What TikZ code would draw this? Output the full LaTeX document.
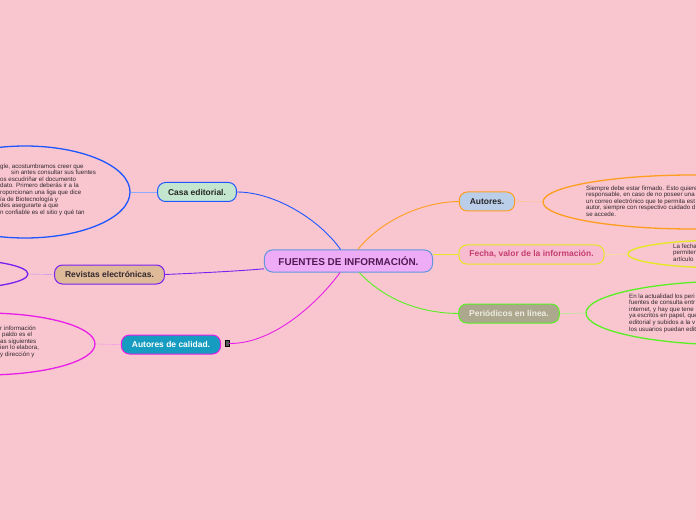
\documentclass[tikz,border=0pt]{standalone}
\usepackage{fontspec}
\setmainfont{Liberation Sans}
\usetikzlibrary{shapes.geometric}
\definecolor{bgpink}{RGB}{249,198,208}
\definecolor{notegray}{RGB}{50,40,46}
\definecolor{mainfill}{RGB}{238,172,246}
\definecolor{mainline}{RGB}{96,150,220}
\definecolor{maintext}{RGB}{82,24,84}
\definecolor{casablue}{RGB}{30,86,255}
\definecolor{casafill}{RGB}{196,230,206}
\definecolor{revviolet}{RGB}{122,32,240}
\definecolor{revfill}{RGB}{222,186,152}
\definecolor{calmag}{RGB}{232,30,232}
\definecolor{calfill}{RGB}{22,156,192}
\definecolor{autorange}{RGB}{255,158,30}
\definecolor{autfill}{RGB}{186,206,234}
\definecolor{fechayel}{RGB}{228,232,30}
\definecolor{fechafill}{RGB}{248,188,208}
\definecolor{fechatext}{RGB}{196,62,112}
\definecolor{pergreen}{RGB}{88,240,34}
\definecolor{perfill}{RGB}{172,168,142}
\definecolor{pertext}{RGB}{238,236,226}

\begin{document}
\begin{tikzpicture}[x=1bp,y=-1bp,
  topic/.style={draw,rounded corners=8bp,line width=1bp,inner xsep=10.5bp,minimum height=19bp,
    font=\fontsize{8.5}{10}\selectfont\bfseries},
  bubble/.style={draw,ellipse,line width=1.3bp,inner sep=0pt},
  branch/.style={line width=0.9bp},
  notetext/.style={inner sep=0pt,anchor=north west,align=left,text=notegray,
    font=\fontsize{6.2}{6.6}\selectfont}]
  \useasboundingbox (0,0) rectangle (696,520);
  \fill[bgpink] (0,0) rectangle (696,520);
  \clip (0,0) rectangle (696,520);

  \node[topic,fill=mainfill,draw=mainline,text=maintext,inner xsep=14bp,minimum height=22bp,
    font=\fontsize{10}{12}\selectfont\bfseries] (central) at (348.5,261) {FUENTES DE INFORMACIÓN.};

  \node[topic,fill=casafill,draw=casablue,text=black!85] (casa) at (197,192) {Casa editorial.};
  \node[topic,fill=revfill,draw=revviolet,text=notegray] (revistas) at (109.5,274.5) {Revistas electrónicas.};
  \node[topic,fill=calfill,draw=calmag,text=white] (calidad) at (171,344.5) {Autores de calidad.};
  \node[draw=black,fill=black!65,minimum width=4bp,minimum height=6bp,inner sep=0pt] (icon) at (227,343.5) {};
  \node[topic,fill=autfill,draw=autorange,text=black!85] (autores) at (487,201.5) {Autores.};
  \node[topic,fill=fechafill,draw=fechayel,text=fechatext] (fecha) at (531.5,254.5) {Fecha, valor de la información.};
  \node[topic,fill=perfill,draw=pergreen,text=pertext] (periodicos) at (509,313.5) {Periódicos en línea.};

  \node[bubble,draw=casablue,minimum width=210bp,minimum height=92bp] (casanote) at (25,192) {};
  \node[bubble,draw=revviolet,minimum width=160bp,minimum height=30bp] (revnote) at (-52,274) {};
  \node[bubble,draw=calmag,minimum width=220bp,minimum height=62bp] (calnote) at (-15,344) {};
  \node[bubble,draw=autorange,minimum width=300bp,minimum height=54bp] (autnote) at (693,202) {};
  \node[bubble,draw=fechayel,minimum width=200bp,minimum height=28bp] (fechanote) at (728,254) {};
  \node[bubble,draw=pergreen,minimum width=300bp,minimum height=64bp] (pernote) at (736,313) {};

  \node[notetext] (casatext) at (0,163.5) {gle, acostumbramos creer que\\
    \hspace*{11bp}sin antes consultar sus fuentes\\
    os escudriñar el documento\\
    dato. Primero deberás ir a la\\
    roporcionan una liga que dice\\
    ía de Biotecnología y\\
    des asegurarte a que\\
    n confiable es el sitio y qué tan};
  \node[notetext] (caltext) at (0,325.5) {r información\\
    \hspace*{2bp}paldo es el\\
    as siguientes\\
    ien lo elabora,\\
    y dirección y};
  \node[notetext] (auttext) at (586,185.5) {Siempre debe estar firmado. Esto quiere\\
    responsable, en caso de no poseer una\\
    un correo electrónico que te permita est\\
    autor, siempre con respectivo cuidado d\\
    se accede.};
  \node[notetext] (fechatext) at (673,243.5) {La fecha\\ permiten\\ artículo};
  \node[notetext] (pertext) at (629,293.5) {En la actualidad los peri\\
    fuentes de consulta entr\\
    internet, y hay que tene\\
    ya escritos en papel, que\\
    editorial y subidos a la v\\
    los usuarios puedan edit};

  \draw[casablue!50] (casanote.east) -- (casa.west);
  \draw[revviolet!50] (revnote.east) -- (revistas.west);
  \draw[calmag!50] (calnote.east) -- (calidad.west);
  \draw[autorange!60] (autores.east) -- (autnote.west);
  \draw[fechayel!60] (fecha.east) -- (fechanote.west);
  \draw[pergreen!60] (periodicos.east) -- (pernote.west);

  \draw[branch,casablue] (casa.east) .. controls (275,192) and (320,220) .. (central);
  \draw[branch,revviolet] (revistas.east) .. controls (200,273) and (240,271) .. (central);
  \draw[branch,calmag] (icon.east) .. controls (275,344) and (320,300) .. (central);
  \draw[branch,autorange] (central) .. controls (380,222) and (420,202) .. (autores.west);
  \draw[branch,fechayel] (central.east |- fecha.west) -- (fecha.west);
  \draw[branch,pergreen] (central) .. controls (385,300) and (420,313) .. (periodicos.west);
\end{tikzpicture}
\end{document}
